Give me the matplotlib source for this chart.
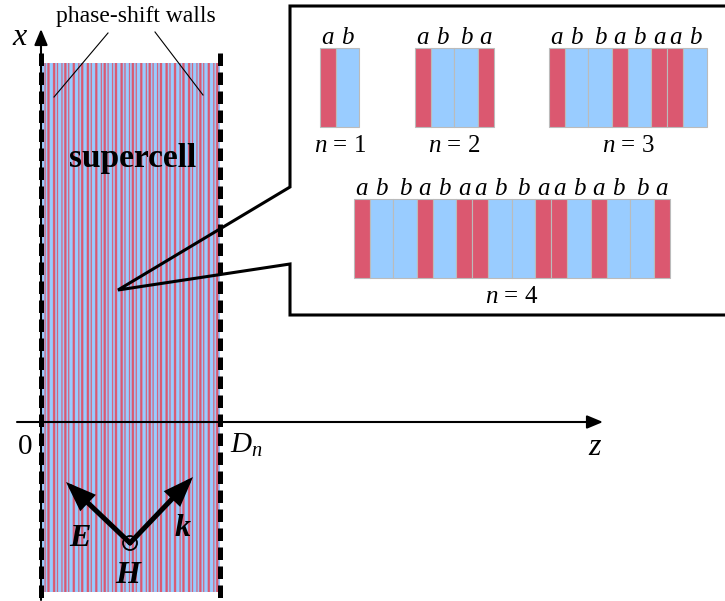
import numpy as np
import matplotlib.pyplot as plt
from matplotlib.colors import to_rgb
from matplotlib.patches import Circle, FancyArrowPatch

plt.rcParams['font.family'] = ['Liberation Serif', 'DejaVu Serif']
plt.rcParams['mathtext.fontset'] = 'custom'
plt.rcParams['mathtext.rm'] = 'Liberation Serif'
plt.rcParams['mathtext.it'] = 'Liberation Serif:italic'
plt.rcParams['mathtext.bf'] = 'Liberation Serif:bold'

# Thue-Morse layer sequences shown in the inset
seq_n = [1, 2, 3, 4]
seq_layers = ['ab', 'abba', 'abbabaab', 'abbabaabbaababba']
a_width = 16.0
b_width = 23.5

# supercell (order 7 sequence, 128 layers)
tm5 = 'abbabaabbaababbabaababbaabbabaab'
tm5_c = 'baababbaabbabaababbabaabbaababba'
supercell_layers = tm5 + tm5_c + tm5_c + tm5

colors = {'a': '#DB5870', 'b': '#99CCFF'}

fig = plt.figure(figsize=(7.25, 6.01), dpi=100)
ax = fig.add_axes([0, 0, 1, 1])
ax.set_xlim(0, 725)
ax.set_ylim(601, 0)
ax.axis('off')


def draw_stack(layers, x0, top, height, wa, wb, edge='#BBBBBB', lw=0.8,
               label_y=None):
    widths = np.array([wa if c == 'a' else wb for c in layers])
    lefts = x0 + np.concatenate([[0], np.cumsum(widths)[:-1]])
    ax.bar(lefts, height, width=widths, bottom=top, align='edge',
           color=[colors[c] for c in layers], edgecolor=edge, linewidth=lw)
    if label_y is not None:
        for l, w, c in zip(lefts, widths, layers):
            ax.text(l + w / 2, label_y, c, style='italic', fontsize=18,
                    ha='center', va='baseline')
    return lefts, widths


# supercell stripes: layer map sampled finely, averaged down by imshow
sc_x0, sc_x1, sc_top, sc_bot = 40, 220, 63, 592
sc_w = np.array([a_width if c == 'a' else b_width for c in supercell_layers])
edges = np.concatenate([[0], np.cumsum(sc_w)])
samples = np.linspace(0, edges[-1], 3600, endpoint=False)
idx = np.searchsorted(edges, samples, side='right') - 1
row = np.array([to_rgb(colors[supercell_layers[i]]) for i in idx])
ax.imshow(row[np.newaxis, :, :], extent=(sc_x0, sc_x1, sc_bot, sc_top),
          aspect='auto', interpolation='antialiased', zorder=1)
ax.set_xlim(0, 725)
ax.set_ylim(601, 0)

# inset stacks
stack_pos = {1: (320, 48), 2: (415, 48), 3: (549, 48), 4: (354, 199)}
for n, layers in zip(seq_n, seq_layers):
    x0, top = stack_pos[n]
    lefts, widths = draw_stack(layers, x0, top, 79, a_width, b_width,
                               label_y=top - 4)
    cx = (lefts[0] + lefts[-1] + widths[-1]) / 2
    ax.text(cx, top + 104, r'$n$ = %d' % n, fontsize=18, ha='center',
            va='baseline')

# phase-shift walls
for xw in (sc_x0 + 1, sc_x1):
    ax.plot([xw, xw], [53, 600], color='k', lw=3.6,
            linestyle=(0, (2.5, 1.3)), solid_capstyle='butt', zorder=3)

# axes arrows
for start, end in [((41, 600), (41, 29)), ((17, 422), (603, 422))]:
    ax.annotate('', xy=end, xytext=start,
                arrowprops=dict(arrowstyle='-|>,head_length=0.6,head_width=0.25',
                                lw=1.5, color='k', mutation_scale=16,
                                shrinkA=0, shrinkB=0), zorder=3)

ax.text(20, 45, 'x', style='italic', fontsize=23, ha='center', va='baseline')
ax.text(595, 455, 'z', style='italic', fontsize=23, ha='center', va='baseline')
ax.text(25, 454, '0', fontsize=21, ha='center', va='baseline')
ax.text(230, 453, r'$D_n$', fontsize=21, ha='left', va='baseline')

# labels on the supercell
ax.text(133, 167, 'supercell', fontsize=24, fontweight='bold', ha='center',
        va='baseline', zorder=4)
ax.text(136, 22, 'phase-shift walls', fontsize=17, ha='center', va='baseline')
ax.plot([108, 54], [33, 97], color='k', lw=0.8, zorder=3)
ax.plot([155, 203], [32, 95], color='k', lw=0.8, zorder=3)

# field vectors
origin = (130, 543)
for tip in [(66, 482), (193, 477)]:
    ax.add_patch(FancyArrowPatch(origin, tip,
                                 arrowstyle='-|>,head_length=0.75,head_width=0.28',
                                 mutation_scale=20, lw=3.6, color='k',
                                 shrinkA=0, shrinkB=0, joinstyle='miter',
                                 zorder=4))
ax.add_patch(Circle(origin, 7, fill=False, lw=1.3, edgecolor='k', zorder=4))
for lab, xy in [('E', (80, 546)), ('k', (183, 536)), ('H', (128, 583))]:
    ax.text(*xy, lab, fontsize=23, fontweight='bold', style='italic',
            ha='center', va='baseline', zorder=4)

# inset box with callout
box_x = [740, 290, 290, 118, 290, 290, 740]
box_y = [6, 6, 187, 290, 264, 315, 315]
ax.plot(box_x, box_y, color='k', lw=2.2, solid_joinstyle='miter', zorder=4)

fig.savefig('out.png', dpi=100)
